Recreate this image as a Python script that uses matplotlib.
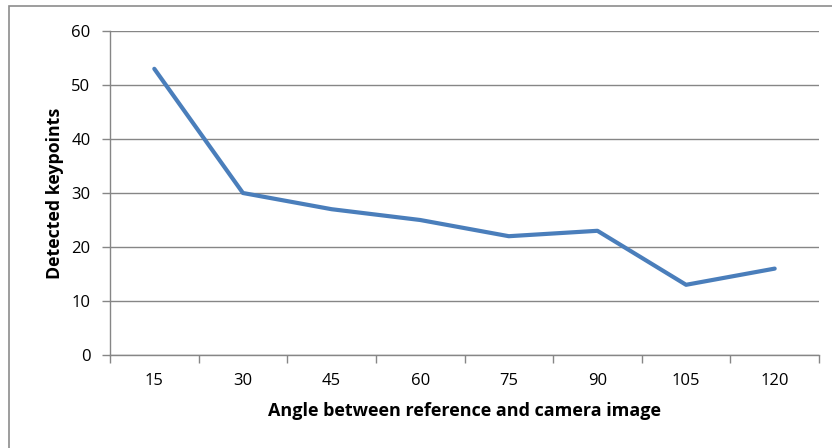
import matplotlib
matplotlib.use("Agg")
import matplotlib.pyplot as plt
from matplotlib.patches import Rectangle

angles = ["15", "30", "45", "60", "75", "90", "105", "120"]
keypoints = [53, 30, 27, 25, 22, 23, 13, 16]
y_ticks = [0, 10, 20, 30, 40, 50, 60]

plt.rcParams["font.family"] = ["Open Sans", "DejaVu Sans"]

W, H = 832, 448
fig = plt.figure(figsize=(W / 100, H / 100), dpi=100)

# chart area border
fig.patches.append(Rectangle((9 / W, -0.05), 1.2, (H - 6) / H + 0.05,
                             transform=fig.transFigure, fill=False,
                             edgecolor="#8c8c8c", linewidth=1.2))

left, right, top, bottom = 110, 819, 31, 355
ax = fig.add_axes([left / W, 1 - bottom / H, (right - left) / W, (bottom - top) / H])

x = list(range(len(angles)))
ax.plot(x, keypoints, color="#4a7ebb", linewidth=3.0, solid_capstyle="round",
        solid_joinstyle="round", zorder=3)

ax.set_xlim(-0.5, len(angles) - 0.5)
ax.set_ylim(0, 60)
ax.set_yticks(y_ticks)
ax.set_yticklabels([str(v) for v in y_ticks], fontsize=12)
ax.yaxis.grid(True, color="#868686", linewidth=1.0)
ax.set_axisbelow(True)

# category labels centered, tick marks between categories
ax.set_xticks(x)
ax.set_xticklabels(angles, fontsize=12)
ax.tick_params(axis="x", which="major", length=0, pad=13)
ax.set_xticks([i - 0.5 for i in range(len(angles) + 1)], minor=True)
ax.tick_params(axis="x", which="minor", length=6, color="#868686", width=1.0)
ax.tick_params(axis="y", length=6, color="#868686", width=1.0, pad=8)

for s in ["top", "right"]:
    ax.spines[s].set_visible(False)
for s in ["left", "bottom"]:
    ax.spines[s].set_color("#868686")
    ax.spines[s].set_linewidth(1.0)

ax.set_xlabel("Angle between reference and camera image", fontsize=13,
              fontweight="bold", labelpad=9)
ax.set_ylabel("Detected keypoints", fontsize=12.8, fontweight="bold", labelpad=5)

fig.savefig("out.png", dpi=100)
